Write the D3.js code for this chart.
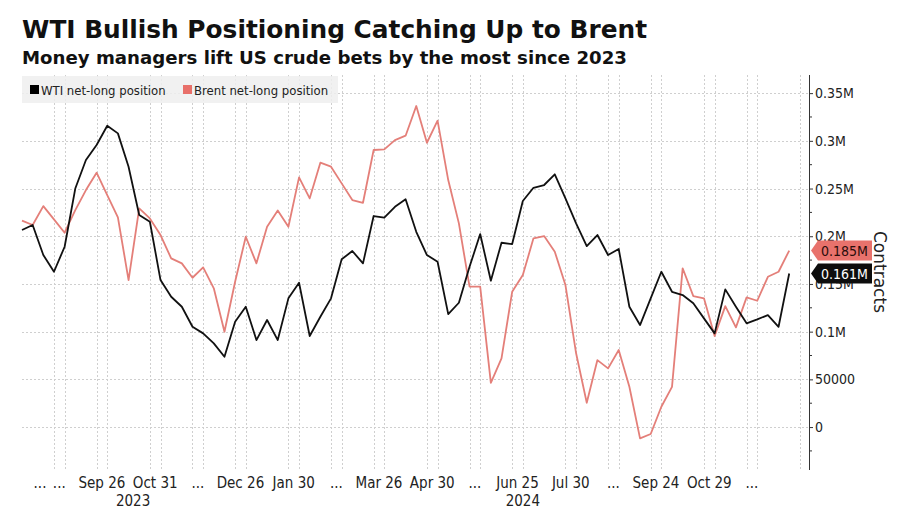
<!DOCTYPE html>
<html>
<head>
<meta charset="utf-8">
<script src="https://cdn.jsdelivr.net/npm/d3@7"></script>
<style>
  body { margin: 0; background: #fff; }
  text { font-family: "DejaVu Sans Condensed", "DejaVu Sans", sans-serif; }
</style>
</head>
<body>
<svg id="chart" width="900" height="510"></svg>
<script>
// weekly CFTC report dates (Tuesdays), first one below
const firstWeek = "2023-08-08";

// net-long positions, contracts
const wti = [206500, 211800, 180300, 162800, 189000, 250000, 279900, 295600, 315800, 307800,
  272900, 222200, 215200, 154100, 136600, 126100, 105100, 98200, 87700, 73700,
  110400, 126100, 91200, 112200, 91200, 134900, 151300, 95400, 115600, 134900,
  175800, 184500, 171600, 221200, 219400, 230900, 238700, 204700, 180300, 173300,
  118400, 130300, 168000, 202300, 153400, 193200, 191800, 236900, 250800, 253700,
  264900, 239700, 213500, 189700, 201300, 180300, 186600, 126100, 106900, 134900,
  162800, 141800, 138400, 129700, 113900, 98200, 144300, 126100, 108700, 112900,
  117400, 105100, 161000];
const brent = [216300, 211800, 231600, 217700, 203700, 227400, 248400, 266600, 243200, 219800,
  154100, 229200, 218700, 201300, 176800, 171600, 156500, 167400, 145400, 99900,
  152300, 199500, 171600, 210000, 227000, 210000, 261700, 239700, 277100, 272900,
  255400, 237900, 235100, 290400, 291100, 300800, 305400, 336500, 298000, 321100,
  258900, 213500, 147100, 147100, 46400, 72000, 141800, 159300, 197800, 200200,
  183800, 148800, 77300, 25500, 70200, 61500, 80700, 42200, -11900, -7300,
  21300, 42200, 166400, 137300, 134900, 95400, 126800, 104500, 135900, 132400,
  157500, 162800, 185000];

// month ticks (last Tuesday of each month) and their labels
const tickDates = ["2023-07-25", "2023-08-29", "2023-09-26", "2023-10-31", "2023-11-28", "2023-12-26",
  "2024-01-30", "2024-02-27", "2024-03-26", "2024-04-30", "2024-05-28", "2024-06-25",
  "2024-07-30", "2024-08-27", "2024-09-24", "2024-10-29", "2024-11-26", "2024-12-31"];
const tickLabels = ["...", "...", "Sep 26", "Oct 31", "...", "Dec 26",
  "Jan 30", "...", "Mar 26", "Apr 30", "...", "Jun 25",
  "Jul 30", "...", "Sep 24", "Oct 29", "...", ""];
const years = [2023, 2024];
const yTicks = [0, 50000, 100000, 150000, 200000, 250000, 300000, 350000];
const yMinor = [-25000, 25000, 75000, 125000, 175000, 225000, 275000, 325000];

const seriesNames = ["WTI net-long position", "Brent net-long position"];
const colors = ["#111111", "#e47f79"];
const boxColors = ["#0d0d0d", "#e8726c"];

const svg = d3.select("#chart");
const plotLeft = 22, plotRight = 809, plotTop = 75, plotBottom = 470;

const start = new Date(firstWeek + "T00:00:00Z");
const dates = wti.map((d, i) => d3.utcDay.offset(start, 7 * i));

const x = d3.scaleUtc()
  .domain([start, d3.utcDay.offset(start, Math.round(7 * 73.86))])
  .range([plotLeft, plotRight]);
const y = d3.scaleLinear()
  .domain([-45000, 369000])
  .range([plotBottom, plotTop]);

// title
svg.append("text").attr("x", 22).attr("y", 38)
  .style("font-family", "'DejaVu Sans', sans-serif").style("font-weight", "bold")
  .style("font-size", "24px").attr("fill", "#111")
  .attr("textLength", 625).attr("lengthAdjust", "spacingAndGlyphs")
  .text("WTI Bullish Positioning Catching Up to Brent");
svg.append("text").attr("x", 22).attr("y", 64)
  .style("font-family", "'DejaVu Sans', sans-serif").style("font-weight", "bold")
  .style("font-size", "17.5px").attr("fill", "#111")
  .attr("textLength", 605).attr("lengthAdjust", "spacingAndGlyphs")
  .text("Money managers lift US crude bets by the most since 2023");

// gridlines
const grid = svg.append("g").attr("stroke", "#cfcfcf").attr("stroke-dasharray", "2,2").attr("stroke-width", 1);
grid.selectAll(".hg").data(yTicks).join("line")
  .attr("x1", plotLeft).attr("x2", plotRight)
  .attr("y1", d => Math.round(y(d)) + 0.5).attr("y2", d => Math.round(y(d)) + 0.5);

const vLines = [];
tickDates.forEach(t => {
  const d = new Date(t + "T00:00:00Z");
  vLines.push(d, d3.utcDay.offset(d, 7));
});
grid.selectAll(".vg").data(vLines.filter(d => x(d) >= plotLeft && x(d) < plotRight)).join("line")
  .attr("x1", d => Math.round(x(d)) + 0.5).attr("x2", d => Math.round(x(d)) + 0.5)
  .attr("y1", plotTop).attr("y2", plotBottom);

// legend
const lg = svg.append("g");
lg.append("rect").attr("x", 22).attr("y", 76).attr("width", 316).attr("height", 27)
  .attr("fill", "#eeeeee").attr("fill-opacity", 0.85);
const legX = [30, 183];
seriesNames.forEach((name, k) => {
  lg.append("rect").attr("x", legX[k]).attr("y", 85).attr("width", 9).attr("height", 9)
    .attr("fill", k === 0 ? "#000" : "#e8706a");
  lg.append("text").attr("x", legX[k] + 11).attr("y", 94.5)
    .style("font-size", "13px").attr("fill", "#222").text(name);
});

// lines
const line = d3.line().x((d, i) => x(dates[i])).y(d => y(d));
[brent, wti].forEach((s, k) => {
  svg.append("path").datum(s)
    .attr("fill", "none")
    .attr("stroke", k === 0 ? colors[1] : colors[0])
    .attr("stroke-width", 1.8)
    .attr("stroke-linejoin", "round")
    .attr("d", line);
});

// right axis
const fmt = d => d === 0 ? "0" : d < 100000 ? String(d) : (d / 1e6) + "M";
const yAxis = d3.axisRight(y).tickValues(yTicks).tickFormat(fmt).tickSize(4).tickPadding(2);
const ax = svg.append("g").attr("transform", `translate(${plotRight},0)`).call(yAxis);
ax.select(".domain").attr("d", `M0.5,${plotTop}V${plotBottom}`).attr("stroke", "#333");
ax.selectAll(".tick line").attr("stroke", "#333");
ax.selectAll(".tick text").style("font-size", "14px").attr("fill", "#222")
  .style("font-family", "'DejaVu Sans Condensed', sans-serif");
svg.append("g").attr("transform", `translate(${plotRight},0)`)
  .selectAll("line").data(yMinor).join("line")
  .attr("x1", 0).attr("x2", 3)
  .attr("y1", d => y(d)).attr("y2", d => y(d))
  .attr("stroke", "#333");

// last value tags
const lastVals = [wti[wti.length - 1], brent[brent.length - 1]];
const tagOrder = [1, 0];
tagOrder.forEach(k => {
  const cy = y(lastVals[k]);
  const g = svg.append("g").attr("transform", `translate(${plotRight + 2},${cy})`);
  g.append("path").attr("d", "M0,0L7,-10H61V10H7Z").attr("fill", boxColors[k]);
  g.append("text").attr("x", 10).attr("y", 5.5)
    .style("font-size", "14px")
    .attr("fill", k === 0 ? "#fff" : "#2a0d0b")
    .text((lastVals[k] / 1e6).toFixed(3) + "M");
});

svg.append("text")
  .attr("transform", `translate(874,272) rotate(90)`)
  .attr("text-anchor", "middle")
  .style("font-family", "'DejaVu Sans', sans-serif")
  .style("font-size", "17px").attr("fill", "#222")
  .text("Contracts");

// x labels
const xl = svg.append("g").style("font-size", "15px").attr("fill", "#222").attr("text-anchor", "middle");
tickDates.forEach((t, k) => {
  const d = new Date(t + "T00:00:00Z");
  const px = Math.max(x(d3.utcHour.offset(d, 84)), plotLeft + 18);
  xl.append("text").attr("x", px).attr("y", 488).text(tickLabels[k]);
});
years.forEach(yr => {
  const a = Math.max(x(new Date(Date.UTC(yr, 0, 1))), plotLeft);
  const b = Math.min(x(new Date(Date.UTC(yr + 1, 0, 1))), plotRight);
  xl.append("text").attr("x", (a + b) / 2).attr("y", 506).text(yr);
});
</script>
</body>
</html>
